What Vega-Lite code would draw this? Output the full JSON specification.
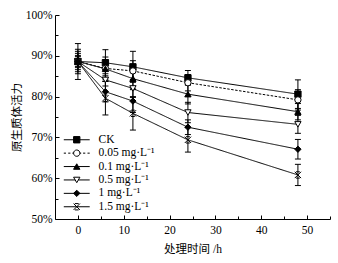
{
  "$schema": "https://vega.github.io/schema/vega-lite/v6.json",
  "width": 275,
  "height": 204,
  "autosize": {"type": "none"},
  "padding": {"left": 55, "top": 15, "right": 8, "bottom": 44},
  "background": "white",
  "config": {
    "view": {"stroke": null},
    "font": "Liberation Serif",
    "axis": {"grid": false, "domainColor": "black", "tickColor": "black", "labelColor": "black", "titleColor": "black", "labelFont": "Liberation Serif", "labelFontSize": 11.5, "titleFontWeight": "normal"}
  },
  "data": {"values": [
    {"g": "CK", "t": 0, "v": 0.886, "lo": 0.842, "hi": 0.930},
    {"g": "CK", "t": 6, "v": 0.883, "lo": 0.851, "hi": 0.915},
    {"g": "CK", "t": 12, "v": 0.873, "lo": 0.835, "hi": 0.911},
    {"g": "CK", "t": 24, "v": 0.846, "lo": 0.828, "hi": 0.864},
    {"g": "CK", "t": 48, "v": 0.806, "lo": 0.771, "hi": 0.841},
    {"g": "0.05 mg·L⁻¹", "t": 0, "v": 0.886, "lo": 0.861, "hi": 0.911},
    {"g": "0.05 mg·L⁻¹", "t": 6, "v": 0.869, "lo": 0.841, "hi": 0.897},
    {"g": "0.05 mg·L⁻¹", "t": 12, "v": 0.863, "lo": 0.838, "hi": 0.888},
    {"g": "0.05 mg·L⁻¹", "t": 24, "v": 0.834, "lo": 0.814, "hi": 0.854},
    {"g": "0.05 mg·L⁻¹", "t": 48, "v": 0.792, "lo": 0.767, "hi": 0.817},
    {"g": "0.1 mg·L⁻¹", "t": 0, "v": 0.886, "lo": 0.856, "hi": 0.916},
    {"g": "0.1 mg·L⁻¹", "t": 6, "v": 0.868, "lo": 0.846, "hi": 0.890},
    {"g": "0.1 mg·L⁻¹", "t": 12, "v": 0.844, "lo": 0.819, "hi": 0.869},
    {"g": "0.1 mg·L⁻¹", "t": 24, "v": 0.806, "lo": 0.782, "hi": 0.830},
    {"g": "0.1 mg·L⁻¹", "t": 48, "v": 0.763, "lo": 0.743, "hi": 0.783},
    {"g": "0.5 mg·L⁻¹", "t": 0, "v": 0.886, "lo": 0.866, "hi": 0.906},
    {"g": "0.5 mg·L⁻¹", "t": 6, "v": 0.841, "lo": 0.826, "hi": 0.856},
    {"g": "0.5 mg·L⁻¹", "t": 12, "v": 0.820, "lo": 0.798, "hi": 0.842},
    {"g": "0.5 mg·L⁻¹", "t": 24, "v": 0.761, "lo": 0.736, "hi": 0.786},
    {"g": "0.5 mg·L⁻¹", "t": 48, "v": 0.732, "lo": 0.710, "hi": 0.754},
    {"g": "1 mg·L⁻¹", "t": 0, "v": 0.886, "lo": 0.871, "hi": 0.901},
    {"g": "1 mg·L⁻¹", "t": 6, "v": 0.812, "lo": 0.787, "hi": 0.837},
    {"g": "1 mg·L⁻¹", "t": 12, "v": 0.789, "lo": 0.761, "hi": 0.817},
    {"g": "1 mg·L⁻¹", "t": 24, "v": 0.725, "lo": 0.707, "hi": 0.743},
    {"g": "1 mg·L⁻¹", "t": 48, "v": 0.671, "lo": 0.647, "hi": 0.695},
    {"g": "1.5 mg·L⁻¹", "t": 0, "v": 0.886, "lo": 0.874, "hi": 0.898},
    {"g": "1.5 mg·L⁻¹", "t": 6, "v": 0.796, "lo": 0.755, "hi": 0.837},
    {"g": "1.5 mg·L⁻¹", "t": 12, "v": 0.759, "lo": 0.718, "hi": 0.800},
    {"g": "1.5 mg·L⁻¹", "t": 24, "v": 0.694, "lo": 0.664, "hi": 0.724},
    {"g": "1.5 mg·L⁻¹", "t": 48, "v": 0.608, "lo": 0.582, "hi": 0.634}
  ]},
  "layer": [
    {
      "mark": {"type": "rule", "color": "black", "strokeWidth": 1},
      "encoding": {
        "x": {"field": "t", "type": "quantitative", "scale": {"domain": [-5, 55], "nice": false, "zero": false},
          "axis": {"orient": "bottom", "values": [0, 10, 20, 30, 40, 50], "ticks": false, "labelPadding": 5, "title": "处理时间 /h", "titleFont": "Liberation Serif, Noto Sans CJK SC", "titleFontSize": 11.5, "titlePadding": 8}},
        "y": {"field": "lo", "type": "quantitative", "scale": {"domain": [0.5, 1.0], "nice": false, "zero": false},
          "axis": {"orient": "left", "values": [0.5, 0.6, 0.7, 0.8, 0.9, 1.0], "format": ".0%", "ticks": false, "labelPadding": 3, "title": "原生质体活力", "titleFont": "Noto Sans CJK SC", "titleFontSize": 11.5, "titlePadding": 3}},
        "y2": {"field": "hi"},
        "detail": {"field": "g"}
      }
    },
    {
      "mark": {"type": "tick", "orient": "horizontal", "size": 6, "thickness": 1, "color": "black", "opacity": 1},
      "encoding": {
        "x": {"field": "t", "type": "quantitative",
          "axis": {"orient": "top", "offset": -204, "values": [0, 5, 10, 15, 20, 25, 30, 35, 40, 45, 50, 55], "labels": false, "domain": false, "title": null,
            "tickSize": {"condition": {"test": "datum.value % 10 === 0", "value": 4}, "value": 3}}},
        "y": {"field": "lo", "type": "quantitative",
          "axis": {"orient": "right", "offset": -275, "values": [0.5, 0.55, 0.6, 0.65, 0.7, 0.75, 0.8, 0.85, 0.9, 0.95, 1.0], "labels": false, "domain": false, "title": null,
            "tickSize": {"condition": {"test": "round(datum.value * 100) % 10 === 0", "value": 4}, "value": 3}}}
      }
    },
    {
      "mark": {"type": "tick", "orient": "horizontal", "size": 6, "thickness": 1, "color": "black", "opacity": 1},
      "encoding": {
        "x": {"field": "t", "type": "quantitative", "axis": null},
        "y": {"field": "hi", "type": "quantitative", "axis": null}
      }
    },
    {
      "mark": {"type": "line", "color": "black", "strokeWidth": 1},
      "encoding": {
        "x": {"field": "t", "type": "quantitative", "axis": null},
        "y": {"field": "v", "type": "quantitative", "axis": null},
        "detail": {"field": "g"},
        "strokeDash": {"condition": {"test": "datum.g === '0.05 mg·L⁻¹'", "value": [2.5, 1.5]}, "value": [1, 0]}
      }
    },
    {
      "mark": {"type": "point", "stroke": "black", "strokeWidth": 1, "opacity": 1, "size": 40},
      "encoding": {
        "x": {"field": "t", "type": "quantitative", "axis": null},
        "y": {"field": "v", "type": "quantitative", "axis": null},
        "fill": {"condition": {"test": "datum.g === '0.05 mg·L⁻¹' || datum.g === '0.5 mg·L⁻¹'", "value": "white"}, "value": "black"},
        "shape": {"field": "g", "type": "nominal", "legend": null,
          "scale": {"domain": ["CK", "0.05 mg·L⁻¹", "0.1 mg·L⁻¹", "0.5 mg·L⁻¹", "1 mg·L⁻¹", "1.5 mg·L⁻¹"], "range": ["square", "circle", "triangle-up", "triangle-down", "diamond", "M-1,-1L1,1M-1,1L1,-1M-0.6,-1L0.6,-1M-0.6,1L0.6,1"]}}
      }
    },
    {
      "mark": {"type": "point", "filled": false, "opacity": 1, "size": 0, "strokeWidth": 1},
      "encoding": {
        "x": {"field": "t", "type": "quantitative", "axis": null},
        "y": {"field": "v", "type": "quantitative", "axis": null},
        "stroke": {"field": "g", "type": "nominal",
          "scale": {"domain": ["CK", "0.05 mg·L⁻¹", "0.1 mg·L⁻¹", "0.5 mg·L⁻¹", "1 mg·L⁻¹", "1.5 mg·L⁻¹"], "range": ["black", "black", "black", "black", "black", "black"]},
          "legend": {
            "orient": "none", "legendX": 16, "legendY": 119, "padding": 0, "title": null,
            "symbolSize": 40, "symbolOffset": 0, "labelOffset": 16, "rowPadding": 0.4,
            "labelFont": "Liberation Serif", "labelFontSize": 11.5, "labelColor": "black",
            "symbolStrokeWidth": 1, "symbolOpacity": 1}},
        "fill": {"field": "g", "type": "nominal",
          "scale": {"domain": ["CK", "0.05 mg·L⁻¹", "0.1 mg·L⁻¹", "0.5 mg·L⁻¹", "1 mg·L⁻¹", "1.5 mg·L⁻¹"], "range": ["black", "white", "black", "white", "black", "black"]},
          "legend": {
            "orient": "none", "legendX": 16, "legendY": 119, "padding": 0, "title": null,
            "symbolSize": 40, "symbolOffset": 0, "labelOffset": 16, "rowPadding": 0.4,
            "labelFont": "Liberation Serif", "labelFontSize": 11.5, "labelColor": "black",
            "symbolStrokeWidth": 1, "symbolOpacity": 1}},
        "shape": {"field": "g", "type": "nominal",
          "scale": {"domain": ["CK", "0.05 mg·L⁻¹", "0.1 mg·L⁻¹", "0.5 mg·L⁻¹", "1 mg·L⁻¹", "1.5 mg·L⁻¹"], "range": [
            "M-4.1,0L4.1,0M-1,-1L1,-1L1,1L-1,1Z",
            "M-4.1,0L-3.4,0M-2.7,0L-2,0M-1.4,0L-1,0M1,0L1.4,0M2,0L2.7,0M3.4,0L4.1,0M1,0A1,1,0,1,1,-1,0A1,1,0,1,1,1,0Z",
            "M-4.1,0L4.1,0M0,-0.866L1,0.866L-1,0.866Z",
            "M-4.1,0L-0.5,0M0.5,0L4.1,0M-1,-0.866L1,-0.866L0,0.866Z",
            "M-4.1,0L4.1,0M-1,0L0,-1L1,0L0,1Z",
            "M-4.1,0L4.1,0M-1,-1L1,1M-1,1L1,-1M-0.6,-1L0.6,-1M-0.6,1L0.6,1"]},
          "legend": {
            "orient": "none", "legendX": 16, "legendY": 119, "padding": 0, "title": null,
            "symbolSize": 40, "symbolOffset": 0, "labelOffset": 16, "rowPadding": 0.4,
            "labelFont": "Liberation Serif", "labelFontSize": 11.5, "labelColor": "black",
            "symbolStrokeWidth": 1, "symbolOpacity": 1}}
      }
    }
  ],
  "resolve": {"axis": {"x": "independent", "y": "independent"}, "scale": {"shape": "independent", "fill": "independent", "stroke": "independent"}}
}
